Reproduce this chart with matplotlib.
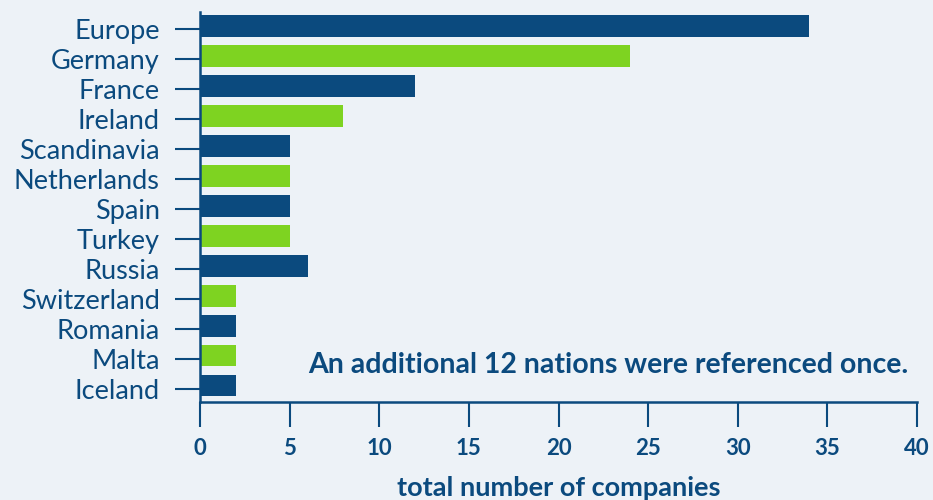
import matplotlib
matplotlib.use("Agg")
import matplotlib.pyplot as plt

categories = ["Europe", "Germany", "France", "Ireland", "Scandinavia", "Netherlands",
              "Spain", "Turkey", "Russia", "Switzerland", "Romania", "Malta", "Iceland"]
values = [34, 24, 12, 8, 5, 5, 5, 5, 6, 2, 2, 2, 2]
xticks = [0, 5, 10, 15, 20, 25, 30, 35, 40]
note = "An additional 12 nations were referenced once."
xlabel = "total number of companies"

navy = "#0B4A7E"
green = "#7ED321"
bg = "#EDF2F7"
colors = [navy if i % 2 == 0 else green for i in range(len(categories))]

fig = plt.figure(figsize=(9.33, 5.0), dpi=100, facecolor=bg)
ax = fig.add_axes([200/933, 1-402/500, (917-200)/933, (402-12)/500])
ax.set_facecolor(bg)

pos = list(range(len(categories)))
ax.barh(pos, values, height=0.73, color=colors)
ax.set_ylim(12.55, -0.467)
ax.set_xlim(0, 40)

ax.set_yticks([p + 0.1 for p in pos])
ax.set_yticklabels(categories, fontfamily="Lato", fontsize=19.5, color=navy,
                   va="center_baseline")
ax.set_xticks(xticks)
ax.set_xticklabels([str(t) for t in xticks], fontfamily="Lato", fontweight="bold",
                   fontsize=16, color=navy)
ax.tick_params(axis="y", length=18, width=1.5, color=navy, pad=11)
ax.tick_params(axis="x", length=18, width=1.5, color=navy, pad=8)
for s in ["top", "right"]:
    ax.spines[s].set_visible(False)
for s in ["left", "bottom"]:
    ax.spines[s].set_color(navy)
    ax.spines[s].set_linewidth(1.8)

ax.set_xlabel(xlabel, fontfamily="Lato", fontweight="bold", fontsize=19.5, color=navy, labelpad=12)
ax.text(39.5, 11.3, note, ha="right", va="center", fontfamily="Lato", fontweight="bold",
        fontsize=20.5, color=navy)

fig.savefig("out.png", dpi=100, facecolor=bg)
